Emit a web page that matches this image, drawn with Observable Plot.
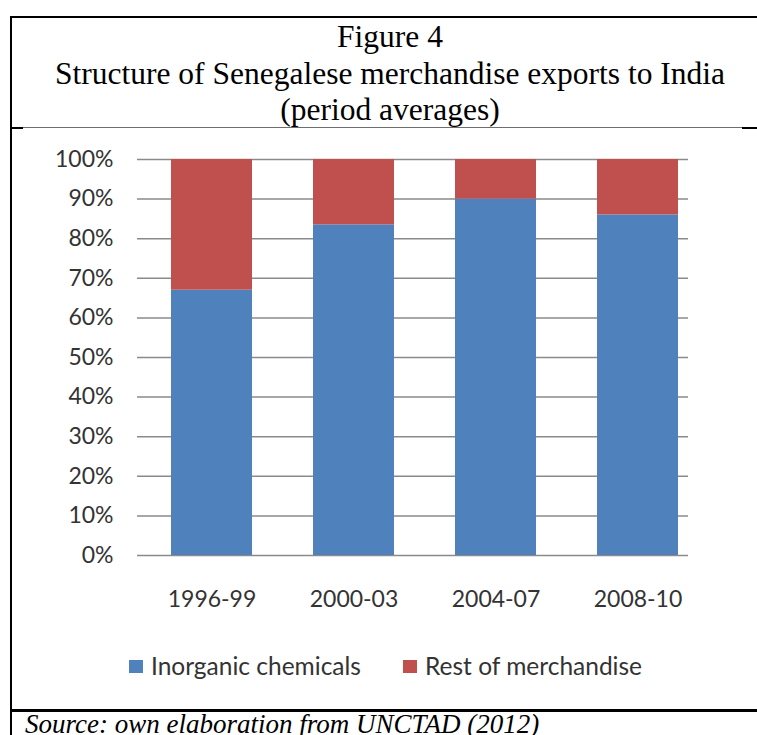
<!DOCTYPE html>
<html>
<head>
<meta charset="utf-8">
<script src="https://cdn.jsdelivr.net/npm/d3@7"></script>
<script src="https://cdn.jsdelivr.net/npm/@observablehq/plot@0.6"></script>
<style>
  html, body { margin: 0; padding: 0; background: #fff; }
  #page { position: relative; width: 757px; height: 735px; overflow: hidden; background: #fff; }
  .abs { position: absolute; }
  #title { left: 10px; width: 760px; top: 19px; text-align: center; font-family: "Liberation Serif", "Times New Roman", serif; font-size: 31.5px; line-height: 36.5px; color: #000; }
  #chart { left: 0; top: 130px; }
  #legend { top: 651px; left: 0; width: 757px; font-family: Lato, sans-serif; font-size: 24.5px; color: #333; }
  .item { position: absolute; top: 0; white-space: nowrap; }
  .sw { position: absolute; width: 14px; height: 13px; top: 9px; }
  #source { left: 25px; top: 709px; font-family: "Liberation Serif", "Times New Roman", serif; font-style: italic; font-size: 27px; color: #000; white-space: nowrap; }
</style>
</head>
<body>
<div id="page">
  <div class="abs" style="left:10px;top:16px;right:0;height:2px;background:#000"></div>
  <div class="abs" style="left:10px;top:16px;width:2px;bottom:0;background:#000"></div>
  <div class="abs" style="left:10px;top:127px;width:757px;height:1px;background:#6e6e6e"></div>
  <div class="abs" style="left:10px;top:127px;width:13px;height:2px;background:#000"></div>
  <div class="abs" style="left:742px;top:127px;width:15px;height:2px;background:#000"></div>
  <div class="abs" style="left:10px;top:709px;right:0;height:3px;background:#000"></div>
  <div id="title" class="abs">Figure 4<br>Structure of Senegalese merchandise exports to India<br>(period averages)</div>
  <div id="chart" class="abs"></div>
  <div id="legend" class="abs"></div>
  <div id="source" class="abs">Source: own elaboration from UNCTAD (2012)</div>
</div>
<script>
const periods = ["1996-99", "2000-03", "2004-07", "2008-10"];
const seriesNames = ["Inorganic chemicals", "Rest of merchandise"];
const inorganic = [67, 83.5, 90, 86];
const rest = [33, 16.5, 10, 14];
const yTicks = [0, 10, 20, 30, 40, 50, 60, 70, 80, 90, 100];
const colors = ["#4F81BD", "#C0504D"];

const data = [];
periods.forEach((p, i) => {
  data.push({period: p, series: seriesNames[0], value: inorganic[i]});
  data.push({period: p, series: seriesNames[1], value: rest[i]});
});

const chart = Plot.plot({
  width: 757,
  height: 500,
  marginLeft: 137,
  marginRight: 69,
  marginTop: 29,
  marginBottom: 75,
  style: {fontFamily: "Lato, sans-serif", fontSize: "23px", color: "#333", background: "transparent"},
  x: {domain: periods, range: [137, 711.5], paddingInner: 0.433, paddingOuter: 0.228, label: null},
  y: {domain: [0, 100], label: null},
  color: {domain: seriesNames, range: colors},
  marks: [
    Plot.gridY(yTicks, {stroke: "#8a8a8a", strokeOpacity: 1, strokeWidth: 1.5}),
    Plot.barY(data, {x: "period", y: "value", fill: "series", order: seriesNames}),
    Plot.axisY(yTicks, {tickSize: 0, tickPadding: 24, tickFormat: d => d + "%", fontSize: 23, fill: "#333", label: null}),
    Plot.axisX({tickSize: 0, tickPadding: 35, fontSize: 23, fill: "#333", label: null})
  ]
});
document.getElementById("chart").appendChild(chart);

const legend = document.getElementById("legend");
const legendX = [129, 403];
seriesNames.forEach((name, i) => {
  const item = document.createElement("div");
  item.className = "item";
  item.style.left = legendX[i] + "px";
  const sw = document.createElement("div");
  sw.className = "sw";
  sw.style.left = "0px";
  sw.style.background = colors[i];
  const t = document.createElement("span");
  t.textContent = name;
  t.style.position = "absolute";
  t.style.left = "22px";
  t.style.top = "0px";
  item.appendChild(sw);
  item.appendChild(t);
  legend.appendChild(item);
});
</script>
</body>
</html>
